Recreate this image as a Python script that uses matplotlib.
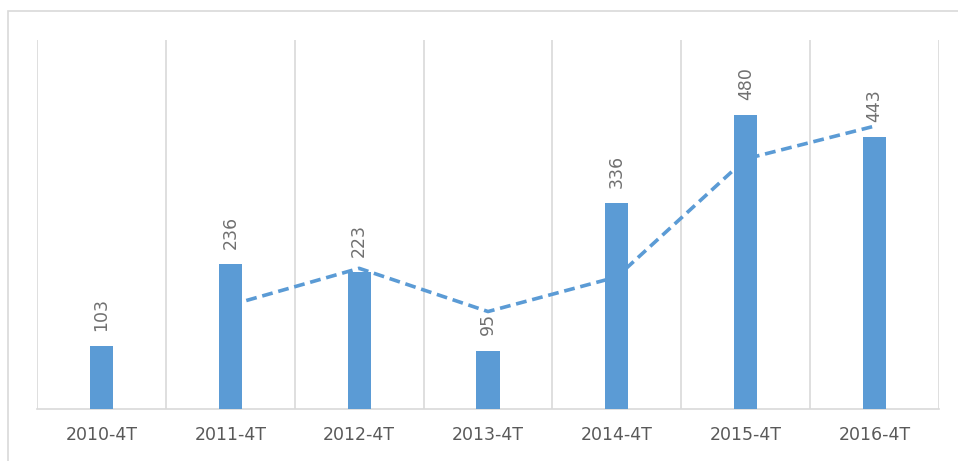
import matplotlib.pyplot as plt
from matplotlib.patches import Rectangle

categories = ["2010-4T", "2011-4T", "2012-4T", "2013-4T", "2014-4T", "2015-4T", "2016-4T"]
values = [103, 236, 223, 95, 336, 480, 443]
# 2-period moving average trend line (starts at 2011-4T)
trend = [169.5, 229.5, 159, 215.5, 408, 461.5]

BLUE = "#5B9BD5"
GRID = "#D9D9D9"
TEXT = "#595959"

fig = plt.figure(figsize=(9.58, 4.61), dpi=100)
fig.patches.append(Rectangle((8 / 958, -0.1), 1.2, 1 - 11 / 461 + 0.1, transform=fig.transFigure,
                             fill=False, edgecolor=GRID, linewidth=1.2))

ax = fig.add_axes([37 / 958, 1 - 409 / 461, (939 - 37) / 958, (409 - 40) / 461])

x = list(range(len(categories)))
ax.bar(x, values, width=0.18, color=BLUE, zorder=3)
ax.plot(x[1:], trend, color=BLUE, linestyle=(0, (3, 1.6)), linewidth=2.6, zorder=4)

for xi, v in zip(x, values):
    ax.annotate(str(v), (xi, v), xytext=(0, 11), textcoords="offset points", rotation=90,
                ha="center", va="bottom", fontsize=12.5, color="#707070", zorder=5)

ax.set_xlim(-0.5, len(categories) - 0.5)
ax.set_ylim(0, 602)
for b in range(len(categories) + 1):
    ax.axvline(b - 0.5, color=GRID, linewidth=1.2, zorder=1)

ax.set_xticks(x)
ax.set_xticklabels(categories, fontsize=12.5, color=TEXT)
ax.tick_params(axis="x", length=0, pad=12)
ax.set_yticks([])
for s in ["top", "left", "right"]:
    ax.spines[s].set_visible(False)
ax.spines["bottom"].set_color(GRID)
ax.spines["bottom"].set_linewidth(1.2)

fig.savefig("out.png", dpi=100)
